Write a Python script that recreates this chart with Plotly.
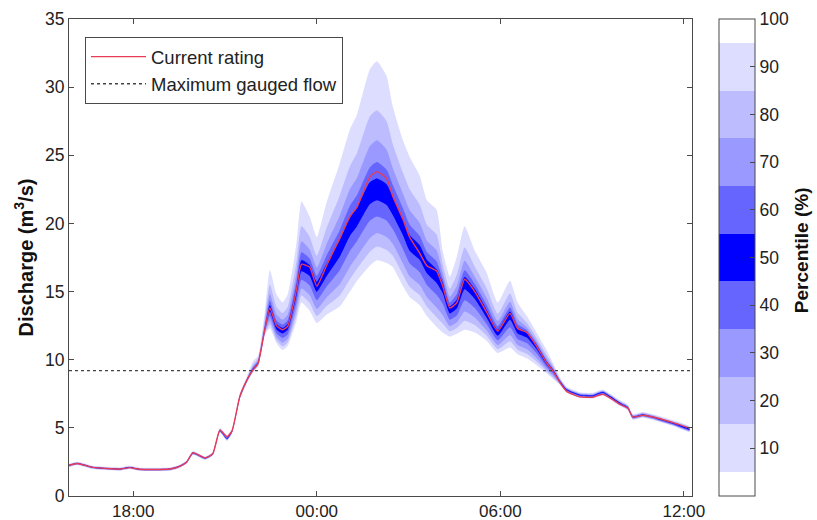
import plotly.graph_objects as go

# ---------------- data ----------------
DAY1 = "2013-01-01 "
DAY2 = "2013-01-02 "
times_day1 = ["15:54","16:10","16:41","17:34","17:53","18:13","19:12","19:32","19:45","19:57",
              "20:21","20:36","20:50","21:04","21:14","21:29","21:43","21:55","22:05","22:18",
              "22:28","22:41","22:53","23:03","23:20","23:30","23:46"]
times_day2 = ["00:00","00:19","00:45","01:05","01:19","01:44","01:58","02:17","02:29","02:49",
              "03:02","03:22","03:36","03:55","04:07","04:21","04:35","04:50","05:10","05:33",
              "05:55","06:19","06:34","06:52","07:11","07:31","07:43","07:57","08:10","08:36",
              "09:01","09:21","09:35","09:55","10:10","10:20","10:40","11:07","11:39","12:11"]
times = [DAY1 + t for t in times_day1] + [DAY2 + t for t in times_day2]

p05 = [2.13,2.28,1.98,1.86,1.98,1.84,1.86,2.08,2.38,3.02,
       2.66,2.98,4.64,4.05,4.60,7.08,8.32,9.10,9.50,11.80,
       12.30,11.20,10.70,11.00,12.80,14.20,13.60,12.70,13.30,13.90,
       15.00,15.80,16.90,17.30,17.10,16.80,15.40,14.60,14.00,13.20,
       12.40,12.00,11.70,11.90,12.20,12.00,11.40,10.50,10.90,10.40,
       10.10,9.60,9.00,8.60,8.15,7.60,7.20,7.15,7.40,7.10,
       6.60,6.30,5.60,5.75,5.50,5.13,4.70]
p15 = [2.15,2.30,2.00,1.88,2.00,1.86,1.88,2.10,2.40,3.05,
       2.68,3.00,4.67,4.08,4.63,7.11,8.35,9.14,9.55,11.88,
       12.58,11.43,10.98,11.27,13.22,14.71,14.17,13.21,13.93,14.72,
       15.91,16.69,17.91,18.30,18.05,17.65,16.24,15.36,14.74,13.90,
       13.12,12.65,12.08,12.32,12.86,12.55,11.78,10.78,11.36,10.74,
       10.44,9.87,9.14,8.72,8.20,7.64,7.24,7.19,7.44,7.14,
       6.64,6.34,5.64,5.79,5.54,5.17,4.74]
p25 = [2.18,2.33,2.03,1.91,2.03,1.89,1.91,2.13,2.43,3.08,
       2.71,3.03,4.71,4.12,4.67,7.15,8.39,9.18,9.60,11.95,
       12.85,11.66,11.25,11.53,13.64,15.23,14.74,13.73,14.55,15.53,
       16.82,17.59,18.91,19.30,19.00,18.51,17.07,16.12,15.48,14.61,
       13.84,13.29,12.46,12.74,13.53,13.10,12.16,11.07,11.81,11.08,
       10.78,10.13,9.28,8.85,8.25,7.68,7.28,7.23,7.48,7.18,
       6.68,6.38,5.68,5.83,5.58,5.21,4.78]
p35 = [2.20,2.35,2.05,1.93,2.05,1.91,1.93,2.15,2.45,3.10,
       2.73,3.05,4.74,4.16,4.70,7.19,8.43,9.23,9.66,12.05,
       13.20,11.94,11.60,11.87,14.16,15.87,15.46,14.37,15.35,16.57,
       17.98,18.71,20.19,20.50,20.20,19.59,18.13,17.08,16.42,15.49,
       14.76,14.11,12.94,13.26,14.37,13.80,12.64,11.43,12.39,11.52,
       11.22,10.47,9.46,9.00,8.30,7.72,7.32,7.27,7.52,7.22,
       6.72,6.42,5.72,5.87,5.62,5.25,4.82]
p45 = [2.23,2.38,2.08,1.96,2.08,1.94,1.96,2.18,2.48,3.13,
       2.76,3.08,4.78,4.20,4.73,7.23,8.47,9.27,9.71,12.14,
       13.53,12.22,11.93,12.19,14.67,16.49,16.15,14.99,16.10,17.55,
       19.08,19.79,21.40,21.70,21.35,20.62,19.14,18.00,17.32,16.34,
       15.63,14.89,13.40,13.77,15.17,14.46,13.10,11.77,12.94,11.93,
       11.63,10.79,9.64,9.15,8.36,7.77,7.37,7.32,7.57,7.27,
       6.77,6.47,5.77,5.92,5.67,5.30,4.87]
p55 = [2.27,2.42,2.12,2.00,2.12,1.98,2.00,2.22,2.52,3.17,
       2.80,3.12,4.83,4.25,4.78,7.28,8.53,9.35,9.80,12.32,
       14.01,12.62,12.33,12.62,15.32,17.32,16.95,15.72,17.04,18.76,
       20.44,21.18,23.02,23.30,22.88,21.96,20.37,19.17,18.40,17.33,
       16.63,15.63,13.92,14.42,16.07,15.18,13.67,12.20,13.53,12.38,
       12.02,11.09,9.84,9.30,8.44,7.83,7.43,7.38,7.63,7.33,
       6.83,6.53,5.83,5.98,5.73,5.36,4.93]
p65 = [2.28,2.43,2.13,2.01,2.13,1.99,2.01,2.23,2.53,3.19,
       2.81,3.13,4.85,4.28,4.80,7.31,8.57,9.42,9.88,12.47,
       14.35,12.90,12.58,12.90,15.74,17.89,17.42,16.16,17.63,19.50,
       21.29,22.08,24.11,24.50,23.93,22.83,21.12,19.92,19.08,17.91,
       17.21,15.95,14.20,14.84,16.56,15.55,14.03,12.46,13.83,12.62,
       12.17,11.21,9.95,9.37,8.48,7.86,7.46,7.41,7.66,7.36,
       6.86,6.56,5.86,6.01,5.76,5.39,4.96]
p75 = [2.30,2.45,2.15,2.03,2.15,2.01,2.03,2.25,2.55,3.21,
       2.83,3.15,4.88,4.32,4.83,7.35,8.62,9.52,9.98,12.70,
       14.83,13.31,12.93,13.31,16.33,18.69,18.08,16.77,18.46,20.56,
       22.50,23.35,25.66,26.10,25.41,24.07,22.19,20.99,20.03,18.72,
       18.02,16.39,14.61,15.43,17.26,16.08,14.54,12.84,14.25,12.96,
       12.39,11.38,10.11,9.46,8.53,7.90,7.50,7.45,7.70,7.40,
       6.90,6.60,5.90,6.05,5.80,5.43,5.00]
p85 = [2.33,2.48,2.18,2.06,2.18,2.04,2.06,2.28,2.58,3.24,
       2.86,3.18,4.92,4.37,4.87,7.40,8.68,9.65,10.10,13.00,
       15.52,13.89,13.42,13.89,17.17,19.81,19.02,17.63,19.64,22.04,
       24.20,25.15,27.84,28.30,27.49,25.83,23.71,22.51,21.37,19.88,
       19.18,17.01,15.19,16.27,18.24,16.82,15.26,13.36,14.85,13.44,
       12.71,11.62,10.34,9.59,8.60,7.95,7.55,7.50,7.75,7.45,
       6.95,6.65,5.95,6.10,5.85,5.48,5.05]
p95 = [2.37,2.52,2.22,2.10,2.22,2.08,2.10,2.32,2.62,3.30,
       2.90,3.22,4.98,4.45,4.93,7.48,8.78,9.90,10.30,13.50,
       16.60,14.80,14.20,14.80,18.50,21.60,20.50,19.00,21.50,24.40,
       26.90,28.00,31.30,31.90,30.80,28.60,26.10,24.90,23.50,21.70,
       21.00,18.00,16.10,17.60,19.80,18.00,16.40,14.20,15.80,14.20,
       13.20,12.00,10.70,9.80,8.70,8.02,7.62,7.57,7.82,7.52,
       7.02,6.72,6.02,6.17,5.92,5.55,5.12]
current_rating = [2.25,2.38,2.10,1.98,2.08,1.96,1.98,2.20,2.50,3.18,
                  2.80,3.10,4.84,4.35,4.80,7.30,8.50,9.25,9.75,12.20,
                  13.80,12.50,12.20,12.45,15.10,17.00,16.80,15.40,16.90,18.90,
                  20.50,21.20,23.40,23.80,23.30,22.00,20.30,19.00,17.80,16.90,
                  16.50,15.40,13.80,14.20,15.90,15.00,13.50,12.10,13.40,12.30,
                  12.00,11.00,9.75,9.20,8.32,7.68,7.27,7.25,7.47,7.20,
                  6.72,6.45,5.80,5.92,5.72,5.38,4.98]
max_gauged_flow = 9.2

x_range = [DAY1 + "15:54", DAY2 + "12:16"]
x_tickvals = [DAY1 + "18:00", DAY2 + "00:00", DAY2 + "06:00", DAY2 + "12:00"]
x_ticktext = ["18:00", "00:00", "06:00", "12:00"]
y_tickvals = [0, 5, 10, 15, 20, 25, 30, 35]
cb_tickvals = [10, 20, 30, 40, 50, 60, 70, 80, 90, 100]

for arr in (p05, p15, p25, p35, p45, p55, p65, p75, p85, p95, current_rating):
    assert len(arr) == len(times)

# ---------------- style ----------------
C1, C2, C3, C4, C5 = ("rgb(221,221,255)", "rgb(188,188,255)", "rgb(153,153,255)",
                      "rgb(102,102,255)", "rgb(0,0,255)")
FONT = "Liberation Sans, Arial, Helvetica, sans-serif"
AXC = "#4a4a4a"
TICKF = dict(family=FONT, size=17.5, color="#222")
XTICKF = dict(family=FONT, size=17, color="#222")

bands = [(p05, p95, C1), (p15, p85, C2), (p25, p75, C3), (p35, p65, C4), (p45, p55, C5)]

fig = go.Figure()
for lo, hi, col in bands:
    fig.add_trace(go.Scatter(
        x=times + times[::-1], y=hi + lo[::-1],
        fill="toself", fillcolor=col, mode="lines",
        line=dict(width=0, color=col, shape="spline", smoothing=0.5),
        showlegend=False, hoverinfo="skip"))

fig.add_trace(go.Scatter(x=times, y=current_rating, mode="lines",
                         line=dict(color="rgb(232,60,85)", width=1.4, shape="spline", smoothing=0.5),
                         name="Current rating"))
fig.add_trace(go.Scatter(x=x_range, y=[max_gauged_flow, max_gauged_flow], mode="lines",
                         line=dict(color="#444444", width=1.4, dash="dot"),
                         name="Maximum gauged flow"))

colorscale = [[0.0, "white"], [0.05, "white"], [0.05, C1], [0.15, C1], [0.15, C2], [0.25, C2],
              [0.25, C3], [0.35, C3], [0.35, C4], [0.45, C4], [0.45, C5], [0.55, C5],
              [0.55, C4], [0.65, C4], [0.65, C3], [0.75, C3], [0.75, C2], [0.85, C2],
              [0.85, C1], [0.95, C1], [0.95, "white"], [1.0, "white"]]

fig.add_trace(go.Scatter(
    x=[times[0]], y=[p05[0]], mode="markers", showlegend=False, hoverinfo="skip",
    marker=dict(size=1, opacity=0, color=[50], cmin=0, cmax=100, colorscale=colorscale,
                showscale=True,
                colorbar=dict(x=1.0433, xanchor="left", xpad=0, ypad=0, y=0.5, yanchor="middle",
                              len=1, lenmode="fraction", thickness=36, thicknessmode="pixels",
                              outlinecolor=AXC, outlinewidth=1,
                              tickvals=cb_tickvals, ticks="inside", ticklen=5, tickcolor=AXC,
                              tickfont=TICKF))))

fig.add_annotation(text="<b>Percentile (%)</b>", xref="paper", yref="paper",
                   x=1.177, y=0.516, xanchor="center", yanchor="middle", textangle=-90,
                   showarrow=False, font=dict(family=FONT, size=19, color="#111"))

fig.update_layout(
    width=817, height=520,
    margin=dict(l=69, r=125, t=19, b=24, autoexpand=False),
    paper_bgcolor="white", plot_bgcolor="white",
    font=dict(family=FONT, size=17, color="#222"),
    legend=dict(x=0.0257, y=0.962, xanchor="left", yanchor="top",
                bgcolor="white", bordercolor=AXC, borderwidth=1,
                font=dict(family=FONT, size=18.5, color="#222"),
                tracegroupgap=0, itemwidth=55),
    xaxis=dict(type="date", range=x_range, tickvals=x_tickvals, ticktext=x_ticktext,
               showgrid=False, zeroline=False, showline=True, linecolor=AXC, linewidth=1,
               mirror="allticks", ticks="inside", ticklen=5, tickcolor=AXC,
               tickfont=XTICKF, automargin=False),
    yaxis=dict(range=[0, 35], tickvals=y_tickvals, showgrid=False, zeroline=False,
               showline=True, linecolor=AXC, linewidth=1, mirror="allticks",
               ticks="inside", ticklen=5, tickcolor=AXC, tickfont=TICKF, automargin=False,
               title=dict(text="<b>Discharge (m<sup>3</sup>/s)</b>", standoff=6,
                          font=dict(family=FONT, size=20, color="#111"))),
)

fig.write_html("out.html", config={"displayModeBar": False},
               post_script="document.body.style.margin='0px';")
